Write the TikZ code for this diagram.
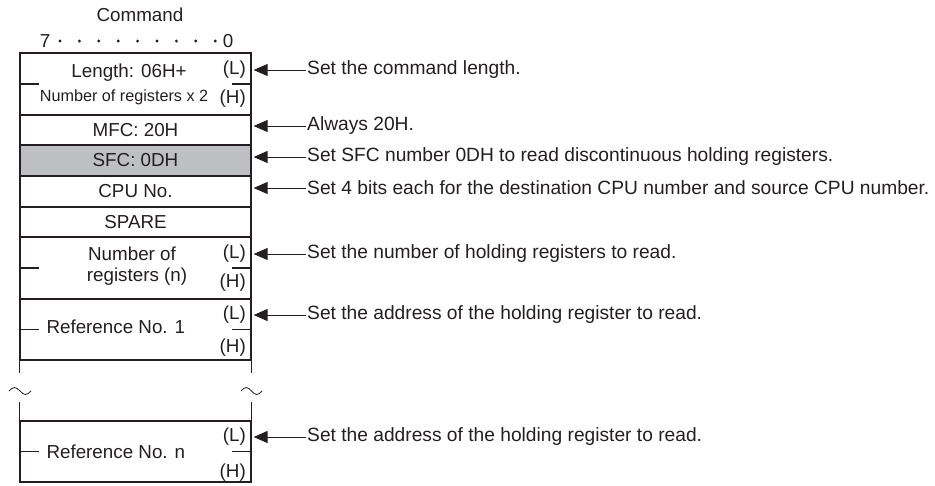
\documentclass[tikz,border=0pt]{standalone}
\usepackage{fontspec}
\setmainfont{Liberation Sans}
\usetikzlibrary{positioning, arrows.meta}
\definecolor{lineDark}{RGB}{35,31,32}
\definecolor{sfcGray}{RGB}{190,191,195}

\begin{document}
\begin{tikzpicture}[
    x=1pt, y=-1pt,
    font=\fontsize{18.8}{22}\selectfont,
    text=lineDark,
    row/.style={draw=lineDark, line width=1.2pt, minimum width=231pt, inner sep=0pt, align=center},
    lh/.style={anchor=east, inner sep=0pt},
    note/.style={anchor=west, inner sep=1pt, font=\fontsize{19.2}{22}\selectfont},
    a/.style={-{Triangle[length=14pt, width=12pt]}, line width=0.9pt, lineDark, shorten >=2pt},
    tick/.style={line width=1.2pt, lineDark},
  ]
    \useasboundingbox (0,0) rectangle (935,485);

    % header
    \node (cmd) at (140,15) {Command};
    \node (b7) at (45,41) {7};
    \node (b0) at (228,41) {0};
    \foreach \i in {0,...,8}
      \fill[lineDark] (60+19.4*\i,41) circle (1.6pt);

    % rows of the frame
    \node[row, minimum height=62pt] (len) at (135.5,84) {};
    \node (lenA) at (129,73) {Length: 06H+};
    \node[font=\fontsize{16.2}{18}\selectfont] (lenB) at (124,97) {Number of registers x 2};
    \node[row, minimum height=30pt] (mfc) at (135.5,130) {MFC: 20H};
    \node[row, minimum height=31pt, fill=sfcGray] (sfc) at (135.5,160.5) {SFC: 0DH};
    \node[row, minimum height=31pt] (cpu) at (135.5,191.5) {CPU No.};
    \node[row, minimum height=30pt] (spare) at (135.5,222) {SPARE};
    \node[row, minimum height=62pt] (num) at (135.5,268) {};
    \node (numA) at (132,254) {Number of};
    \node (numB) at (137,277) {registers (n)};
    \node[row, minimum height=61pt] (ref1) at (135.5,329.5) {};
    \node[anchor=west] (ref1T) at (43,327) {Reference No. 1};
    \node[row, minimum height=61pt] (refn) at (135.5,451.5) {};
    \node[anchor=west] (refnT) at (43,452) {Reference No. n};

    % (L)/(H) marks
    \node[lh] (lenL) at (246,70) {(L)};
    \node[lh] (lenH) at (246,99) {(H)};
    \node[lh] (numL) at (246,254) {(L)};
    \node[lh] (numH) at (246,283) {(H)};
    \node[lh] (ref1L) at (246,315) {(L)};
    \node[lh] (ref1H) at (246,348) {(H)};
    \node[lh] (refnL) at (246,437) {(L)};
    \node[lh] (refnH) at (246,473) {(H)};

    % byte split ticks
    \foreach \r in {len, num, ref1, refn} {
      \draw[tick] (\r.west) -- ++(20,0);
      \draw[tick] (\r.east) -- ++(-20,0);
    }

    % open sides and break marks
    \draw[tick] (ref1.south west) -- ++(0,12);
    \draw[tick] (ref1.south east) -- ++(0,12);
    \draw[tick] (refn.north west) -- ++(0,-18);
    \draw[tick] (refn.north east) -- ++(0,-18);
    \draw[lineDark, line width=0.8pt] (9,391) sin (14.5,387.5) cos (20,391) sin (25.5,394.5) cos (31,391);
    \draw[lineDark, line width=0.8pt] (241,391) sin (246.25,387.5) cos (251.5,391) sin (256.75,394.5) cos (262,391);

    % notes
    \node[note] (nLen) at (306,70) {Set the command length.};
    \node[note] (nMfc) at (306,126) {Always 20H.};
    \node[note] (nSfc) at (306,157) {Set SFC number 0DH to read discontinuous holding registers.};
    \node[note] (nCpu) at (306,188) {Set 4 bits each for the destination CPU number and source CPU number.};
    \node[note] (nNum) at (306,254) {Set the number of holding registers to read.};
    \node[note] (nRef1) at (306,315) {Set the address of the holding register to read.};
    \node[note] (nRefn) at (306,437) {Set the address of the holding register to read.};
    \draw[a] (nLen.west) -- (nLen.west -| len.east);
    \draw[a] (nMfc.west) -- (nMfc.west -| mfc.east);
    \draw[a] (nSfc.west) -- (nSfc.west -| sfc.east);
    \draw[a] (nCpu.west) -- (nCpu.west -| cpu.east);
    \draw[a] (nNum.west) -- (nNum.west -| num.east);
    \draw[a] (nRef1.west) -- (nRef1.west -| ref1.east);
    \draw[a] (nRefn.west) -- (nRefn.west -| refn.east);
  \end{tikzpicture}
\end{document}
